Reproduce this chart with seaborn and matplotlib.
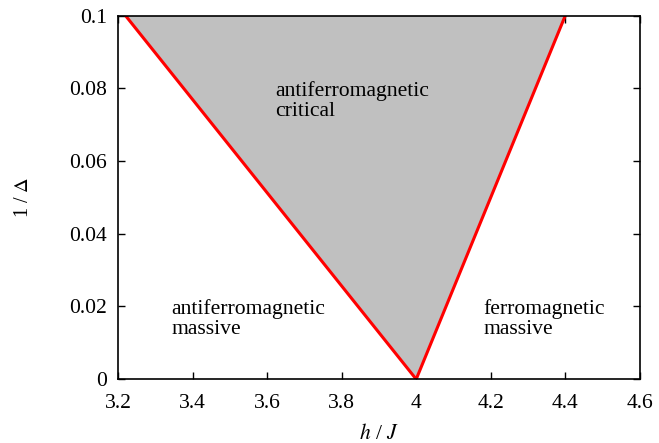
import numpy as np
import pandas as pd
import seaborn as sns
import matplotlib.pyplot as plt

# phase boundaries
delta_inv = [0.0, 0.1]
h_left = [4.0, 3.22]
h_right = [4.0, 4.4]

# region labels: (x, baseline y of first line, lines)
labels = [
    (3.621, 0.0778, ['antiferromagnetic', 'critical']),
    (3.344, 0.0179, ['antiferromagnetic', 'massive']),
    (4.181, 0.0179, ['ferromagnetic', 'massive']),
]

sns.set_style("ticks")
plt.rcParams['font.family'] = ['Liberation Serif', 'DejaVu Serif']
plt.rcParams['mathtext.fontset'] = 'stix'
plt.rcParams['text.color'] = 'black'
plt.rcParams['axes.labelcolor'] = 'black'
plt.rcParams['xtick.color'] = 'black'
plt.rcParams['ytick.color'] = 'black'

fig = plt.figure(figsize=(6.59, 4.43), dpi=100)
ax = fig.add_axes([0.179, 0.144, 0.792, 0.821])

# critical region between the two boundaries
ax.fill_betweenx(delta_inv, h_left, h_right, color='#c0c0c0', linewidth=0)

df_left = pd.DataFrame({'h': h_left, 'd': delta_inv})
df_right = pd.DataFrame({'h': h_right, 'd': delta_inv})
sns.lineplot(data=df_left, x='h', y='d', sort=False, color='red', linewidth=2.2, ax=ax)
sns.lineplot(data=df_right, x='h', y='d', sort=False, color='red', linewidth=2.2, ax=ax)

ax.set_xlim(3.2, 4.6)
ax.set_ylim(0, 0.1)
ax.set_xticks([3.2, 3.4, 3.6, 3.8, 4.0, 4.2, 4.4, 4.6])
ax.set_xticklabels(['3.2', '3.4', '3.6', '3.8', '4', '4.2', '4.4', '4.6'])
ax.set_yticks([0, 0.02, 0.04, 0.06, 0.08, 0.1])
ax.set_yticklabels(['0', '0.02', '0.04', '0.06', '0.08', '0.1'])
ax.tick_params(direction='in', length=5, width=1, top=True, right=True, labelsize=15.6)
ax.tick_params(axis='x', pad=10.5)
ax.tick_params(axis='y', pad=8)
for s in ax.spines.values():
    s.set_linewidth(1.2)
    s.set_color('black')

ax.set_xlabel(r'$h$ / $J$', fontsize=15.5, labelpad=8)
ax.set_ylabel(r'1 / $\Delta$', fontsize=14.5, labelpad=26)

line_step = 0.0055
for x, y, lines in labels:
    for i, line in enumerate(lines):
        ax.text(x, y - i * line_step, line, fontsize=15.6, va='baseline', ha='left')

fig.savefig('out.png', dpi=100)
